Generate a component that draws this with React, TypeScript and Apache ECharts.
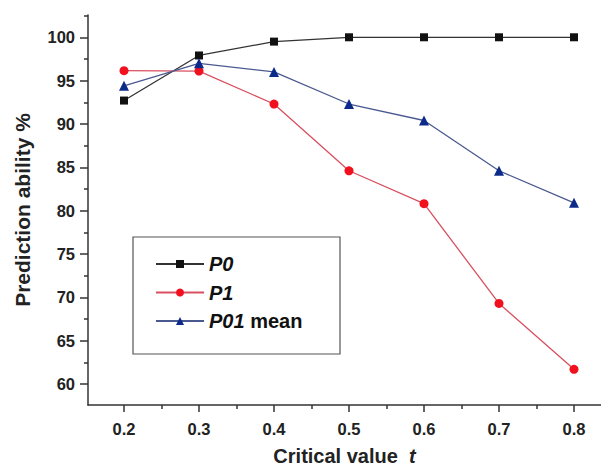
import React, { useEffect, useRef } from "react";
import * as echarts from "echarts";

const xValues = [0.2, 0.3, 0.4, 0.5, 0.6, 0.7, 0.8];
const p0 = [92.7, 97.9, 99.5, 100, 100, 100, 100];
const p1 = [96.15, 96.1, 92.3, 84.6, 80.8, 69.3, 61.7];
const p01Mean = [94.4, 97.0, 96.0, 92.3, 90.4, 84.6, 80.9];
const xMajor = [0.2, 0.3, 0.4, 0.5, 0.6, 0.7, 0.8];
const xMinor = [0.25, 0.35, 0.45, 0.55, 0.65, 0.75];
const yMajor = [60, 65, 70, 75, 80, 85, 90, 95, 100];
const yMinor = [62.5, 67.5, 72.5, 77.5, 82.5, 87.5, 92.5, 97.5, 102.5];

const FONT = "'Liberation Sans', Arial, sans-serif";
const AXIS_COLOR = "#333";

export default function App() {
  const ref = useRef<HTMLDivElement>(null);
  useEffect(() => {
    if (!ref.current) return;
    const chart = echarts.init(ref.current, null, { renderer: "svg" });
    const pairs = (ys: number[]) => xValues.map((x, i) => [x, ys[i]]);
    const xMin = 0.152, xMax = 0.836, yMin = 57.58, yMax = 102.57;
    chart.setOption({
      animation: false,
      backgroundColor: "#fff",
      textStyle: { fontFamily: FONT },
      grid: { left: 88, top: 15, right: 0, bottom: 63, containLabel: false, outerBoundsMode: "none" },
      xAxis: [
        {
          type: "value", min: xMin, max: xMax,
          axisLine: { show: true, lineStyle: { color: AXIS_COLOR, width: 1.5 } },
          axisTick: { show: true, customValues: xMajor, length: 7, lineStyle: { color: AXIS_COLOR, width: 1.5 } },
          axisLabel: { customValues: xMajor, formatter: (v: number) => v.toFixed(1), color: "#222", fontSize: 16.5, fontWeight: "bold", fontFamily: FONT, margin: 15 },
          splitLine: { show: false },
          name: "Critical value  {i|t}",
          nameLocation: "middle",
          nameGap: 41,
          nameTextStyle: {
            color: "#222", fontSize: 20, fontWeight: "bold", fontFamily: FONT, lineHeight: 20,
            rich: { i: { fontStyle: "italic", fontWeight: "bold", fontSize: 20, color: "#222", fontFamily: FONT, lineHeight: 20 } },
          },
        },
        {
          type: "value", min: xMin, max: xMax, position: "bottom",
          axisLine: { show: false },
          axisTick: { show: true, customValues: xMinor, length: 4, lineStyle: { color: AXIS_COLOR, width: 1.5 } },
          axisLabel: { show: false },
          splitLine: { show: false },
        },
      ],
      yAxis: [
        {
          type: "value", min: yMin, max: yMax,
          axisLine: { show: true, lineStyle: { color: AXIS_COLOR, width: 1.5 } },
          axisTick: { show: true, customValues: yMajor, length: 8, lineStyle: { color: AXIS_COLOR, width: 1.5 } },
          axisLabel: { customValues: yMajor, color: "#222", fontSize: 16.5, fontWeight: "bold", fontFamily: FONT, margin: 13 },
          splitLine: { show: false },
          name: "Prediction ability %",
          nameLocation: "middle",
          nameGap: 55,
          nameTextStyle: { color: "#222", fontSize: 21, fontWeight: "bold", fontFamily: FONT },
        },
        {
          type: "value", min: yMin, max: yMax, position: "left",
          axisLine: { show: false },
          axisTick: { show: true, customValues: yMinor, length: 4, lineStyle: { color: AXIS_COLOR, width: 1.5 } },
          axisLabel: { show: false },
          splitLine: { show: false },
        },
      ],
      graphic: [
        {
          type: "rect",
          shape: { x: 133, y: 237, width: 207, height: 117 },
          style: { fill: "none", stroke: "#555", lineWidth: 1.2 },
          z: 10,
        },
      ],
      legend: {
        orient: "vertical",
        left: 150,
        top: 247,
        itemWidth: 48,
        itemHeight: 10,
        itemGap: 4.5,
        padding: 5,
        data: ["P0", "P1", "P01 mean"],
        formatter: (name: string) => (name === "P01 mean" ? "{i|P01} {n|mean}" : "{i|" + name + "}"),
        textStyle: {
          color: "#111", fontSize: 20, fontFamily: FONT, lineHeight: 24,
          rich: {
            i: { fontStyle: "italic", fontWeight: "bold", fontSize: 20, color: "#111", fontFamily: FONT, lineHeight: 24 },
            n: { fontWeight: "bold", fontSize: 20, color: "#111", fontFamily: FONT, lineHeight: 24 },
          },
        },
      },
      series: [
        {
          name: "P0", type: "line", data: pairs(p0),
          symbol: "rect", symbolSize: 8,
          lineStyle: { color: "#333", width: 1.3 },
          itemStyle: { color: "#111" },
        },
        {
          name: "P1", type: "line", data: pairs(p1),
          symbol: "circle", symbolSize: 9,
          lineStyle: { color: "#d8505f", width: 1.3 },
          itemStyle: { color: "#f0101e" },
        },
        {
          name: "P01 mean", type: "line", data: pairs(p01Mean),
          symbol: "triangle", symbolSize: 10,
          lineStyle: { color: "#4a5a90", width: 1.3 },
          itemStyle: { color: "#0c2a8a" },
        },
      ],
    });
    return () => chart.dispose();
  }, []);
  return <div ref={ref} style={{ position: "fixed", left: 0, top: 0, width: 601, height: 468 }} />;
}
